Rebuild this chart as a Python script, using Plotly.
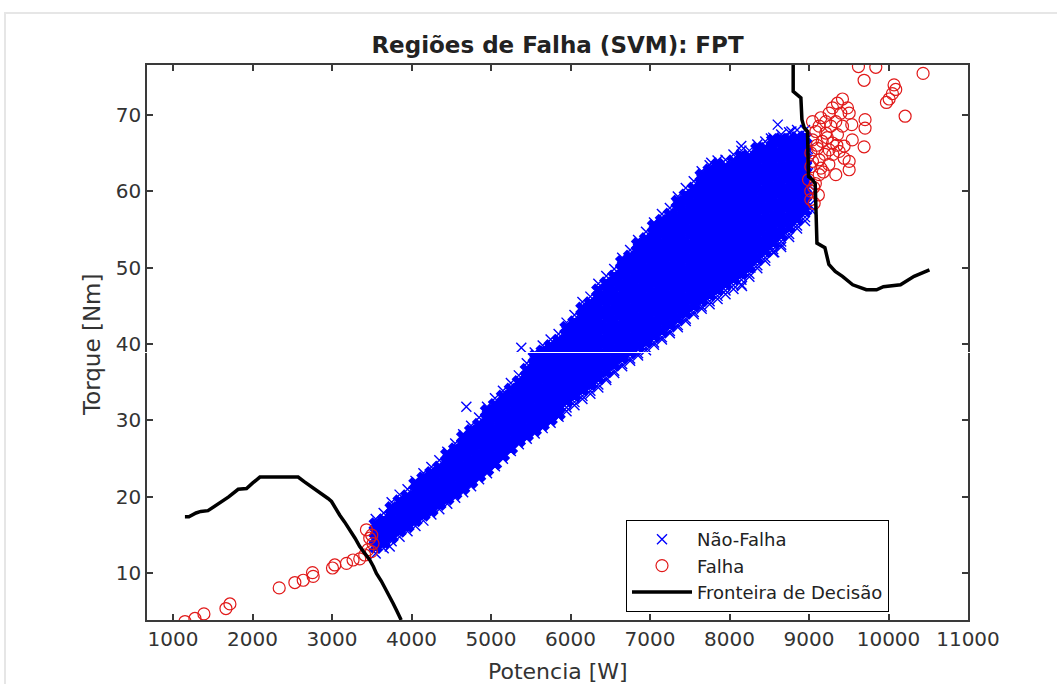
import plotly.graph_objects as go

# ---------------- data ----------------
# Não-Falha cloud: power columns and the torque values read in each column
nf_potencia_colunas = [3550, 3650, 3750, 3850, 3950, 4050, 4150, 4250, 4350, 4450,
                       4550, 4650, 4750, 4850, 4950, 5050, 5150, 5250, 5350, 5450,
                       5550, 5650, 5750, 5850, 5950, 6050, 6150, 6250, 6350, 6450,
                       6550, 6650, 6750, 6850, 6950, 7050, 7150, 7250, 7350, 7450,
                       7550, 7650, 7750, 7850, 7950, 8050, 8150, 8250, 8350, 8450,
                       8550, 8650, 8750, 8850, 8950]
nf_torque_colunas = [
    [12.6, 13.5, 14.5, 15.4, 16.4, 17.1],
    [13.3, 14.1, 15.0, 16.0, 16.9, 17.9],
    [14.2, 14.8, 15.7, 16.6, 17.6, 18.5, 19.3],
    [14.8, 15.6, 16.5, 17.5, 18.4, 19.4, 20.3],
    [15.5, 16.2, 17.2, 18.1, 19.1, 20.0, 21.0],
    [16.2, 17.0, 17.9, 18.9, 19.8, 20.8, 21.7, 22.1],
    [16.9, 17.7, 18.6, 19.6, 20.5, 21.5, 22.4, 23.1],
    [17.7, 18.3, 19.3, 20.2, 21.2, 22.1, 23.1, 23.9],
    [18.4, 19.1, 20.0, 21.0, 21.9, 22.9, 23.8, 24.8],
    [19.1, 19.8, 20.7, 21.7, 22.6, 23.6, 24.5, 25.5, 25.9],
    [19.9, 20.5, 21.4, 22.4, 23.3, 24.3, 25.2, 26.2, 27.0],
    [20.6, 21.2, 22.1, 23.1, 24.0, 25.0, 25.9, 26.9, 27.8, 28.2],
    [21.4, 22.0, 22.9, 23.9, 24.8, 25.8, 26.7, 27.7, 28.6, 29.3],
    [22.3, 22.8, 23.7, 24.7, 25.6, 26.6, 27.5, 28.5, 29.4, 30.4],
    [23.1, 23.6, 24.5, 25.5, 26.4, 27.4, 28.3, 29.3, 30.2, 31.2, 31.8],
    [24.0, 24.4, 25.3, 26.3, 27.2, 28.2, 29.1, 30.1, 31.0, 32.0, 32.9],
    [25.0, 25.5, 26.4, 27.4, 28.3, 29.3, 30.2, 31.2, 32.1, 33.1, 33.9],
    [26.0, 26.4, 27.3, 28.3, 29.2, 30.2, 31.1, 32.1, 33.0, 34.0, 34.9],
    [26.9, 27.4, 28.3, 29.3, 30.2, 31.2, 32.1, 33.1, 34.0, 35.0, 35.9],
    [27.6, 28.1, 29.0, 30.0, 30.9, 31.9, 32.8, 33.8, 34.7, 35.7, 36.6, 37.5],
    [28.3, 28.8, 29.7, 30.7, 31.6, 32.6, 33.5, 34.5, 35.4, 36.4, 37.3, 38.3, 38.9],
    [29.0, 29.5, 30.4, 31.4, 32.3, 33.3, 34.2, 35.2, 36.1, 37.1, 38.0, 39.0, 39.8],
    [29.7, 30.2, 31.1, 32.1, 33.0, 34.0, 34.9, 35.9, 36.8, 37.8, 38.7, 39.7, 40.6],
    [30.5, 30.9, 31.8, 32.8, 33.7, 34.7, 35.6, 36.6, 37.5, 38.5, 39.4, 40.4, 41.3],
    [31.2, 31.7, 32.6, 33.6, 34.5, 35.5, 36.4, 37.4, 38.3, 39.3, 40.2, 41.2, 42.1, 42.8],
    [32.0, 32.4, 33.3, 34.3, 35.2, 36.2, 37.1, 38.1, 39.0, 40.0, 40.9, 41.9, 42.8, 43.8],
    [32.8, 33.2, 34.1, 35.1, 36.0, 37.0, 37.9, 38.9, 39.8, 40.8, 41.7, 42.7, 43.6, 44.6, 45.5],
    [33.5, 33.9, 34.8, 35.8, 36.7, 37.7, 38.6, 39.6, 40.5, 41.5, 42.4, 43.4, 44.3, 45.3, 46.2],
    [34.3, 34.7, 35.6, 36.6, 37.5, 38.5, 39.4, 40.4, 41.3, 42.3, 43.2, 44.2, 45.1, 46.1, 47.0, 47.9],
    [35.3, 35.6, 36.5, 37.5, 38.4, 39.4, 40.3, 41.3, 42.2, 43.2, 44.1, 45.1, 46.0, 47.0, 47.9, 48.9],
    [36.2, 36.5, 37.4, 38.4, 39.3, 40.3, 41.2, 42.2, 43.1, 44.1, 45.0, 46.0, 46.9, 47.9, 48.8, 49.8],
    [37.1, 37.4, 38.3, 39.3, 40.2, 41.2, 42.1, 43.1, 44.0, 45.0, 45.9, 46.9, 47.8, 48.8, 49.7, 50.7, 51.3],
    [37.8, 38.1, 39.0, 40.0, 40.9, 41.9, 42.8, 43.8, 44.7, 45.7, 46.6, 47.6, 48.5, 49.5, 50.4, 51.4, 52.3],
    [38.5, 38.8, 39.7, 40.7, 41.6, 42.6, 43.5, 44.5, 45.4, 46.4, 47.3, 48.3, 49.2, 50.2, 51.1, 52.1, 53.0, 53.6],
    [39.2, 39.5, 40.4, 41.4, 42.3, 43.3, 44.2, 45.2, 46.1, 47.1, 48.0, 49.0, 49.9, 50.9, 51.8, 52.8, 53.7, 54.7],
    [39.9, 40.2, 41.1, 42.1, 43.0, 44.0, 44.9, 45.9, 46.8, 47.8, 48.7, 49.7, 50.6, 51.6, 52.5, 53.5, 54.4, 55.4, 55.9],
    [40.6, 40.9, 41.8, 42.8, 43.7, 44.7, 45.6, 46.6, 47.5, 48.5, 49.4, 50.4, 51.3, 52.3, 53.2, 54.2, 55.1, 56.1, 57.0],
    [41.4, 41.7, 42.6, 43.6, 44.5, 45.5, 46.4, 47.4, 48.3, 49.3, 50.2, 51.2, 52.1, 53.1, 54.0, 55.0, 55.9, 56.9, 57.8],
    [42.2, 42.5, 43.4, 44.4, 45.3, 46.3, 47.2, 48.2, 49.1, 50.1, 51.0, 52.0, 52.9, 53.9, 54.8, 55.8, 56.7, 57.7, 58.6, 59.3],
    [43.0, 43.3, 44.2, 45.2, 46.1, 47.1, 48.0, 49.0, 49.9, 50.9, 51.8, 52.8, 53.7, 54.7, 55.6, 56.6, 57.5, 58.5, 59.4, 60.4],
    [43.9, 44.2, 45.1, 46.1, 47.0, 48.0, 48.9, 49.9, 50.8, 51.8, 52.7, 53.7, 54.6, 55.6, 56.5, 57.5, 58.4, 59.4, 60.3, 61.3],
    [44.6, 44.9, 45.8, 46.8, 47.7, 48.7, 49.6, 50.6, 51.5, 52.5, 53.4, 54.4, 55.3, 56.3, 57.2, 58.2, 59.1, 60.1, 61.0, 62.0, 62.6],
    [45.2, 45.6, 46.5, 47.5, 48.4, 49.4, 50.3, 51.3, 52.2, 53.2, 54.1, 55.1, 56.0, 57.0, 57.9, 58.9, 59.8, 60.8, 61.7, 62.7, 63.4],
    [45.9, 46.3, 47.2, 48.2, 49.1, 50.1, 51.0, 52.0, 52.9, 53.9, 54.8, 55.8, 56.7, 57.7, 58.6, 59.6, 60.5, 61.5, 62.4, 63.4, 64.0],
    [46.5, 47.0, 47.9, 48.9, 49.8, 50.8, 51.7, 52.7, 53.6, 54.6, 55.5, 56.5, 57.4, 58.4, 59.3, 60.3, 61.2, 62.2, 63.1, 64.1],
    [47.2, 47.7, 48.6, 49.6, 50.5, 51.5, 52.4, 53.4, 54.3, 55.3, 56.2, 57.2, 58.1, 59.1, 60.0, 61.0, 61.9, 62.9, 63.8, 64.8],
    [47.8, 48.4, 49.3, 50.3, 51.2, 52.2, 53.1, 54.1, 55.0, 56.0, 56.9, 57.9, 58.8, 59.8, 60.7, 61.7, 62.6, 63.6, 64.5, 65.3],
    [48.8, 49.2, 50.1, 51.1, 52.0, 53.0, 53.9, 54.9, 55.8, 56.8, 57.7, 58.7, 59.6, 60.6, 61.5, 62.5, 63.4, 64.4, 65.3],
    [49.9, 50.3, 51.2, 52.2, 53.1, 54.1, 55.0, 56.0, 56.9, 57.9, 58.8, 59.8, 60.7, 61.7, 62.6, 63.6, 64.5, 65.5, 66.1],
    [50.9, 51.3, 52.2, 53.2, 54.1, 55.1, 56.0, 57.0, 57.9, 58.9, 59.8, 60.8, 61.7, 62.7, 63.6, 64.6, 65.5, 66.5],
    [52.0, 52.4, 53.3, 54.3, 55.2, 56.2, 57.1, 58.1, 59.0, 60.0, 60.9, 61.9, 62.8, 63.8, 64.7, 65.7, 66.6, 67.0],
    [53.0, 53.4, 54.3, 55.3, 56.2, 57.2, 58.1, 59.1, 60.0, 61.0, 61.9, 62.9, 63.8, 64.8, 65.7, 66.7, 67.4],
    [54.0, 54.4, 55.3, 56.3, 57.2, 58.2, 59.1, 60.1, 61.0, 62.0, 62.9, 63.9, 64.8, 65.8, 66.7, 67.7],
    [55.1, 55.5, 56.4, 57.4, 58.3, 59.3, 60.2, 61.2, 62.1, 63.1, 64.0, 65.0, 65.9, 66.9, 68.0],
    [56.1, 56.6, 57.5, 58.5, 59.4, 60.4, 61.3, 62.3, 63.2, 64.2, 65.1, 66.1, 67.0, 68.0],
]
# isolated Não-Falha points at the fringe of the cloud
nf_extra_potencia = [5381, 4690, 3726, 7771, 8148, 8607, 8779, 8521, 8563, 8650,
                     8264, 8157, 7621, 9010, 9030, 9000, 9040, 8990, 8985]
nf_extra_torque = [39.5, 31.8, 13.5, 63.7, 65.9, 68.7, 67.8, 66.9, 52.0, 52.7,
                   50.0, 47.6, 45.6, 58.2, 59.6, 60.8, 57.4, 63.5, 65.5]

# Falha points
falha_potencia = [1151, 1276, 1389, 1666, 1716, 2336, 2533, 2638, 2763, 2755,
                  3006, 3035, 3182, 3265, 3349, 3412, 3453, 3475, 3433, 3496,
                  3516, 3500,
                  9622, 9840, 10435, 9693, 10070, 10091, 10049, 10008, 9974, 10209,
                  9421, 9358, 9296, 9484, 9254, 9400, 9505, 9149, 9044, 9211,
                  9337, 9705, 9128, 9274, 9421, 9538, 9086, 9211, 9358, 9705,
                  9544, 9693, 9044, 9166, 9296, 9442, 9107, 9254, 9379, 9023,
                  9442, 9505, 9128, 9044, 9505, 9337, 9128, 9023, 8994, 9023,
                  9118, 9023, 9065,
                  9080, 9150, 9200, 9250, 9300, 9180, 9060, 9100, 9350, 9230]
falha_torque = [3.7, 4.1, 4.7, 5.4, 6.0, 8.1, 8.8, 9.1, 9.6, 10.1,
                10.7, 11.1, 11.3, 11.75, 11.9, 12.4, 13.1, 14.6, 15.7, 12.85,
                13.9, 15.0,
                76.3, 76.2, 75.4, 74.5, 73.9, 73.3, 72.75, 72.05, 71.6, 69.8,
                72.05, 71.5, 70.9, 70.9, 70.2, 70.2, 70.2, 69.6, 69.1, 69.1,
                69.1, 69.35, 68.5, 68.5, 68.5, 68.7, 67.8, 67.6, 67.4, 68.25,
                66.7, 65.8, 66.7, 66.5, 66.3, 65.9, 65.6, 65.4, 65.2, 65.0,
                64.3, 63.9, 64.1, 63.9, 62.8, 62.15, 62.15, 63.2, 61.5, 60.0,
                59.5, 58.9, 58.4,
                61.0, 63.0, 64.8, 63.5, 64.8, 62.5, 60.5, 66.0, 66.0, 67.0]

# Decision boundary (two branches)
fronteira_esq_potencia = [1150, 1200, 1290, 1350, 1440, 1500, 1590, 1700, 1820, 1925,
                          2000, 2093, 2200, 2574, 2650, 2750, 2847, 2950, 2994, 3050,
                          3098, 3160, 3224, 3290, 3349, 3410, 3475, 3520, 3559, 3620,
                          3684, 3730, 3768, 3810, 3852, 3870]
fronteira_esq_torque = [17.4, 17.4, 17.9, 18.1, 18.2, 18.6, 19.2, 20.0, 21.0, 21.1,
                        21.8, 22.6, 22.6, 22.6, 22.0, 21.3, 20.5, 19.8, 19.4, 18.4,
                        17.6, 16.7, 15.7, 14.6, 13.5, 12.7, 11.75, 10.9, 10.0, 9.0,
                        7.8, 7.0, 6.1, 5.2, 4.3, 3.9]
fronteira_dir_potencia = [8801, 8801, 8898, 8911, 8940, 8981, 8994, 9044, 9078, 9090,
                          9100, 9200, 9230, 9250, 9330, 9421, 9550, 9721, 9850, 9936,
                          10151, 10322, 10515]
fronteira_dir_torque = [76.5, 73.05, 72.2, 69.35, 68.3, 67.8, 61.9, 61.5, 61.0, 57.0,
                        53.2, 52.6, 51.0, 50.4, 49.5, 48.85, 47.75, 47.1, 47.1, 47.5,
                        47.75, 48.85, 49.7]

x_ticks = [1000, 2000, 3000, 4000, 5000, 6000, 7000, 8000, 9000, 10000, 11000]
y_ticks = [10, 20, 30, 40, 50, 60, 70]

# ---------------- build the figure ----------------
# interior points of each column form the dense core, the outer ones the sparse fringe
core_x, core_y, borda_x, borda_y = [], [], [], []
for p, col in zip(nf_potencia_colunas, nf_torque_colunas):
    n_baixo = 2 if len(col) >= 14 else 1
    interior = col[n_baixo:-1]
    fora = col[:n_baixo] + col[-1:]
    core_x.extend([p] * len(interior))
    core_y.extend(interior)
    borda_x.extend([p] * len(fora))
    borda_y.extend(fora)
borda_x.extend(nf_extra_potencia)
borda_y.extend(nf_extra_torque)

FONT = "DejaVu Sans"
AX = "#3a3a3a"
BLUE = "#0000ff"
RED = "rgb(225,25,25)"

# plot area in pixels (from the reference)
L, R, T, B = 147, 968, 65, 620
PW, PH = R - L, B - T

fig = go.Figure()
fig.add_trace(go.Scatter(
    x=core_x, y=core_y, mode="markers", name="Não-Falha",
    legendgroup="nf", showlegend=False,
    marker=dict(symbol="x", size=11, color=BLUE, line=dict(color=BLUE, width=1.5)),
))
fig.add_trace(go.Scatter(
    x=borda_x, y=borda_y, mode="markers", name="Não-Falha", legendgroup="nf",
    marker=dict(symbol="x-thin-open", size=10, color=BLUE,
                line=dict(color=BLUE, width=1.4)),
))
fig.add_trace(go.Scatter(
    x=falha_potencia, y=falha_torque, mode="markers", name="Falha",
    marker=dict(symbol="circle-open", size=12, color=RED,
                line=dict(color=RED, width=1.2)),
))
fig.add_trace(go.Scatter(
    x=fronteira_esq_potencia + [None] + fronteira_dir_potencia,
    y=fronteira_esq_torque + [None] + fronteira_dir_torque,
    mode="lines", name="Fronteira de Decisão", connectgaps=False,
    line=dict(color="black", width=3.5),
))

axis_common = dict(
    showline=True, linecolor=AX, linewidth=1.5, mirror="ticks",
    ticks="inside", ticklen=6, tickwidth=1.5, tickcolor=AX,
    showgrid=False, zeroline=False, automargin=False,
    tickfont=dict(family=FONT, size=20, color="#333333"),
)

fig.update_layout(
    width=1057, height=684,
    margin=dict(l=L, r=1057 - R, t=T, b=684 - B),
    paper_bgcolor="white", plot_bgcolor="white",
    font=dict(family=FONT, color="#222222"),
    title=dict(text="<b>Regiões de Falha (SVM): FPT</b>", x=0.5, xref="paper",
               y=1 - 45 / 684, yanchor="middle",
               font=dict(family=FONT, size=23, color="#222222")),
    xaxis=dict(range=[673, 11000], tickvals=x_ticks,
               ticktext=[str(v) for v in x_ticks], **axis_common),
    yaxis=dict(range=[3.9, 76.5], tickvals=y_ticks, **axis_common),
    showlegend=True,
    legend=dict(x=(626 - L) / PW, y=(B - 520) / PH, xanchor="left", yanchor="top",
                bgcolor="white", bordercolor="black", borderwidth=1,
                font=dict(family=FONT, size=18, color="#222222"),
                itemwidth=60, tracegroupgap=0),
    annotations=[
        dict(text="Potencia [W]", xref="paper", yref="paper",
             x=0.5, y=(B - 671) / PH, xanchor="center", yanchor="middle",
             showarrow=False, font=dict(family=FONT, size=22, color="#333333")),
        dict(text="Torque [Nm]", xref="paper", yref="paper", textangle=-90,
             x=(92 - L) / PW, y=(B - 345) / PH, xanchor="center", yanchor="middle",
             showarrow=False, font=dict(family=FONT, size=23, color="#333333")),
    ],
    shapes=[
        dict(type="line", xref="paper", yref="paper",
             x0=(4 - L) / PW, x1=(1057 - L) / PW,
             y0=(B - 13) / PH, y1=(B - 13) / PH,
             line=dict(color="#e6e6e6", width=2)),
        dict(type="line", xref="paper", yref="paper",
             x0=(5 - L) / PW, x1=(5 - L) / PW,
             y0=(B - 13) / PH, y1=(B - 684) / PH,
             line=dict(color="#e6e6e6", width=2)),
        dict(type="line", xref="paper", yref="paper", layer="above",
             x0=(40 - L) / PW, x1=(1000 - L) / PW,
             y0=(B - 352.5) / PH, y1=(B - 352.5) / PH,
             line=dict(color="white", width=1.2)),
    ],
)

fig.write_html("out.html", config={"displayModeBar": False},
               post_script="document.body.style.margin='0px';")
